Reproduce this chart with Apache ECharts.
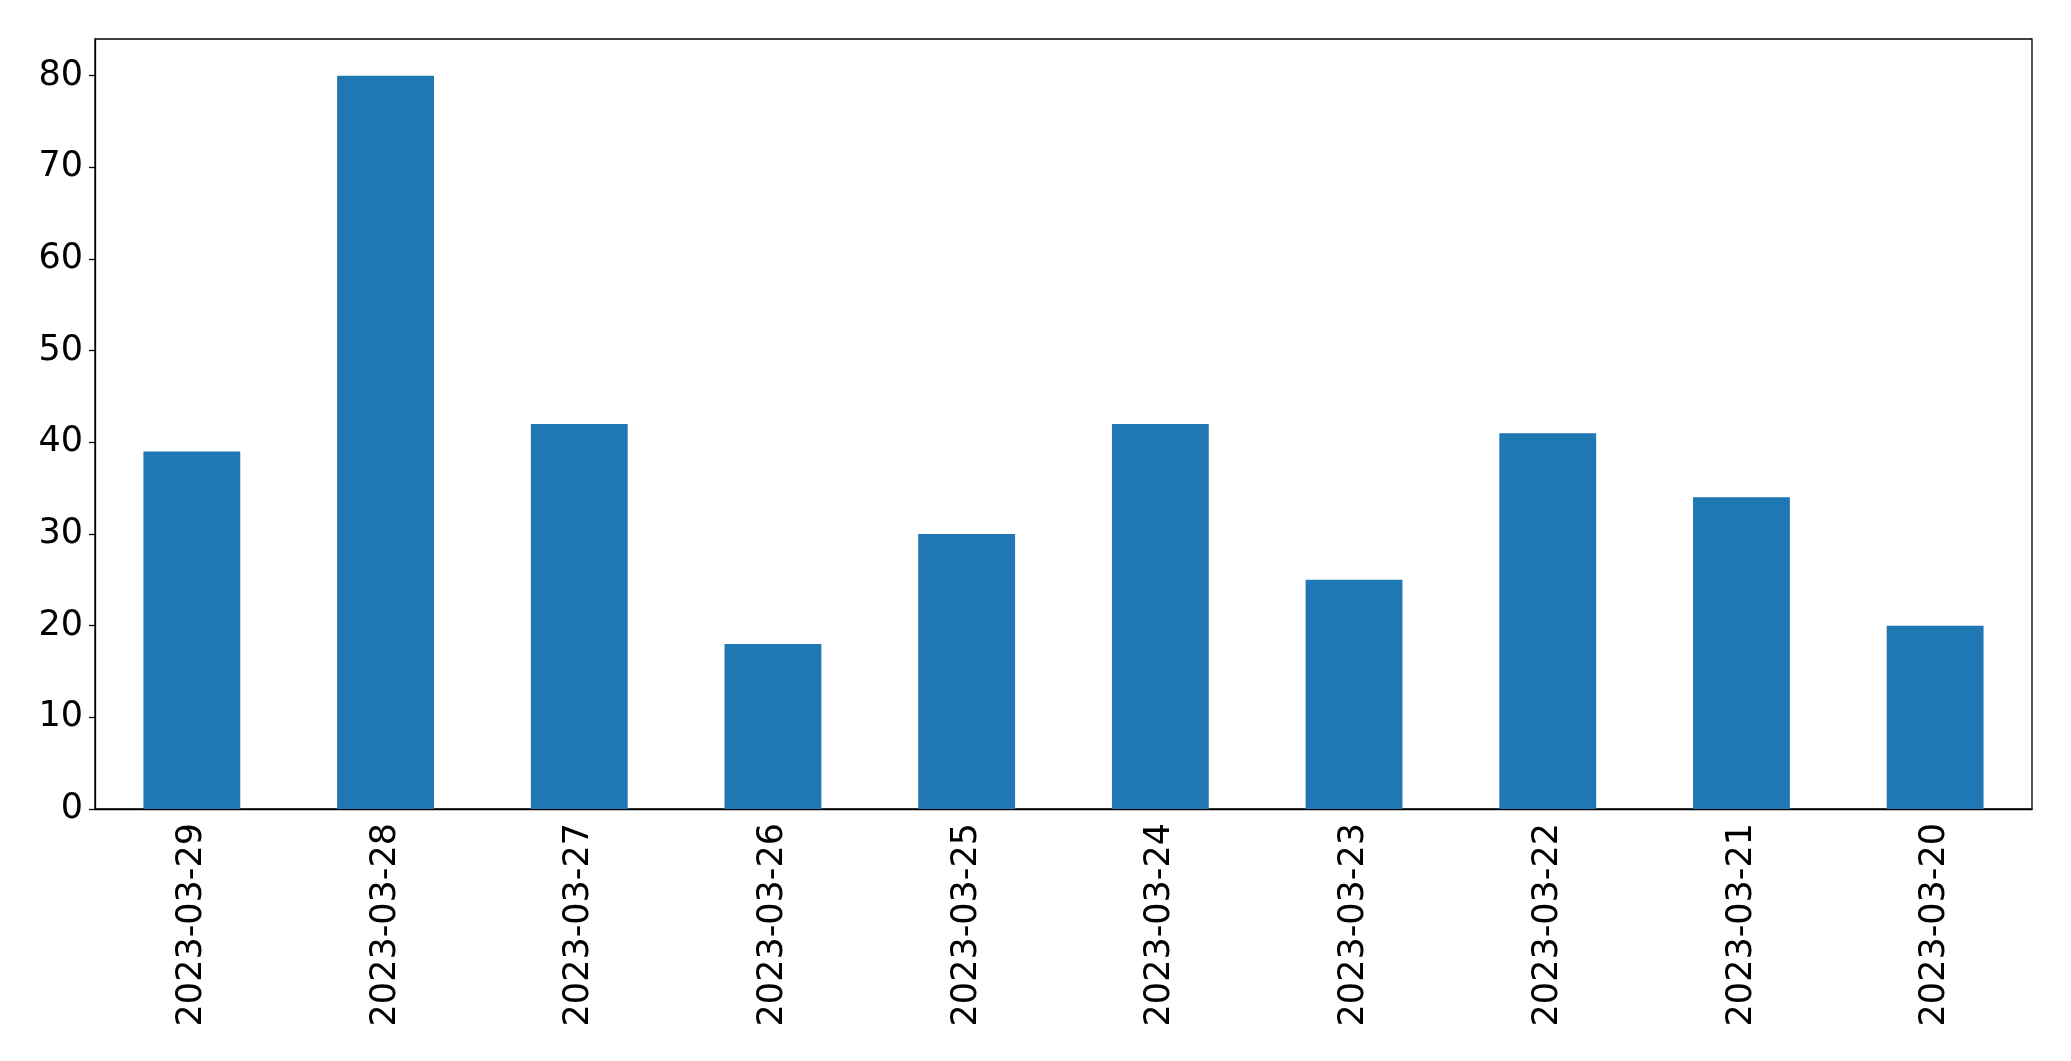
<!DOCTYPE html>
<html><head><meta charset="utf-8">
<script src="https://cdn.jsdelivr.net/npm/echarts@6/dist/echarts.min.js"></script>
<style>html,body{margin:0;padding:0;background:#fff}#c{width:2071px;height:1061px}</style>
</head><body><div id="c"></div>
<script>
const categories = ['2023-03-29','2023-03-28','2023-03-27','2023-03-26','2023-03-25','2023-03-24','2023-03-23','2023-03-22','2023-03-21','2023-03-20'];
const values = [39, 80, 42, 18, 30, 42, 25, 41, 34, 20];
const yTicks = [0, 10, 20, 30, 40, 50, 60, 70, 80];
const yMin = 0, yMax = 84, yStep = 10;

const chart = echarts.init(document.getElementById('c'), null, {renderer: 'canvas'});
const font = 'DejaVu Sans';
chart.setOption({
  animation: false,
  backgroundColor: '#fff',
  grid: {left: 95, right: 39, top: 39, bottom: 252, show: true, borderColor: '#000', borderWidth: 1.3, containLabel: false},
  xAxis: {
    type: 'category', data: categories,
    axisLine: {lineStyle: {color: '#000', width: 1.3}},
    axisTick: {alignWithLabel: true, length: 6, lineStyle: {color: '#000', width: 1.3}},
    axisLabel: {rotate: 90, color: '#000', fontFamily: font, fontSize: 35, margin: 14, interval: 0},
    splitLine: {show: false}
  },
  yAxis: {
    type: 'value', min: yMin, max: yMax, interval: yStep,
    axisLine: {show: true, lineStyle: {color: '#000', width: 1.3}},
    axisTick: {show: true, length: 6, customValues: yTicks, lineStyle: {color: '#000', width: 1.3}},
    axisLabel: {color: '#000', fontFamily: font, fontSize: 35, margin: 12, customValues: yTicks},
    splitLine: {show: false}
  },
  series: [{type: 'bar', data: values, barWidth: '50%', itemStyle: {color: '#1f77b4'}}]
});
</script></body></html>
